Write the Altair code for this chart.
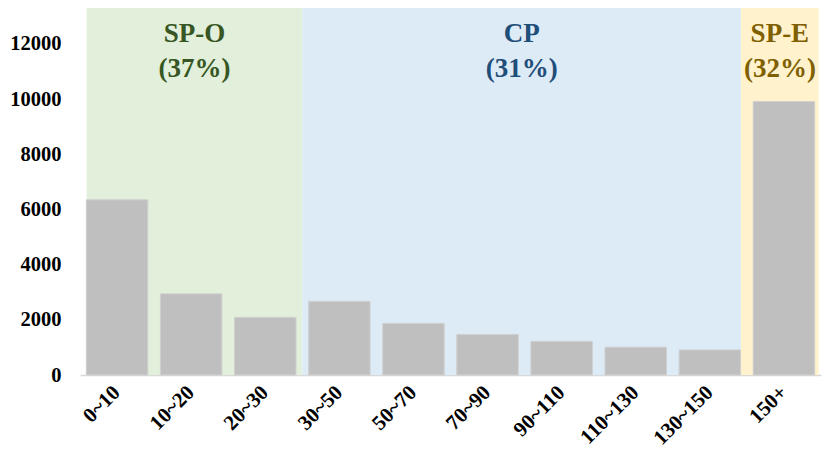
import altair as alt
import pandas as pd

# --- data ---
categories = ["0~10", "10~20", "20~30", "30~50", "50~70", "70~90",
              "90~110", "110~130", "130~150", "150+"]
counts = [6350, 2940, 2090, 2670, 1870, 1470, 1220, 1010, 910, 9910]

region_names = ["SP-O", "CP", "SP-E"]
region_shares = ["(37%)", "(31%)", "(32%)"]
region_start = [0.09, 3.0, 8.92]      # in category-slot units
region_end = [3.0, 8.92, 9.97]
region_top = [13360, 13360, 13360]
region_fill = ["#e2efda", "#ddebf7", "#fff2cc"]
region_text = ["#375623", "#1f4e79", "#7f6000"]

FONT = "Times New Roman, Liberation Serif, serif"

bars_df = pd.DataFrame({"cat": categories, "n": counts})
reg_df = pd.DataFrame({
    "name": region_names, "share": region_shares,
    "x0": region_start, "x1": region_end, "top": region_top,
    "fill": region_fill, "tcol": region_text,
})
reg_df["mid"] = (reg_df["x0"] + reg_df["x1"]) / 2
reg_df["zero"] = 0

xq = alt.Scale(domain=[0, 10], nice=False, zero=False)
ysc = alt.Scale(domain=[0, 13300], nice=False)
yaxis = alt.Axis(title=None, values=[0, 2000, 4000, 6000, 8000, 10000, 12000],
                 format="d", labelFont=FONT, labelFontWeight="bold",
                 labelFontSize=20.5, labelColor="#000000", labelPadding=19,
                 ticks=False, domain=False, grid=False)

bg = alt.Chart(reg_df).mark_rect().encode(
    x=alt.X("x0:Q", scale=xq, axis=None),
    x2="x1:Q",
    y=alt.Y("top:Q", scale=ysc, axis=yaxis),
    y2="zero:Q",
    color=alt.Color("fill:N", scale=None),
)

t1 = alt.Chart(reg_df).mark_text(
    font=FONT, fontWeight="bold", fontSize=27, baseline="middle"
).encode(
    x=alt.X("mid:Q", scale=xq, axis=None),
    y=alt.value(26),
    text="name:N",
    color=alt.Color("tcol:N", scale=None),
)
t2 = alt.Chart(reg_df).mark_text(
    font=FONT, fontWeight="bold", fontSize=27, baseline="middle"
).encode(
    x=alt.X("mid:Q", scale=xq, axis=None),
    y=alt.value(61),
    text="share:N",
    color=alt.Color("tcol:N", scale=None),
)

bars = alt.Chart(bars_df).mark_bar(color="#bfbfbf", stroke="#d0d0d0", strokeWidth=1).encode(
    x=alt.X("cat:N", sort=categories,
            scale=alt.Scale(paddingInner=0.17, paddingOuter=0.085),
            axis=alt.Axis(title=None, labelAngle=-45, labelAlign="right",
                          labelBaseline="middle", labelFont=FONT, labelFontWeight="bold",
                          labelFontSize=21, labelColor="#000000", labelPadding=14,
                          ticks=False, domainColor="#d9d9d9", domainWidth=1.5,
                          grid=False)),
    y=alt.Y("n:Q", scale=ysc, axis=yaxis),
)

chart = alt.layer(bg, t1, t2, bars).resolve_scale(x="independent").properties(
    width=741, height=367,
    autosize=alt.AutoSizeParams(type="none"),
    padding={"left": 72, "top": 0, "right": 2, "bottom": 83},
).configure_view(stroke=None)

chart.save("out.html", embed_options={"renderer": "svg", "actions": False})
